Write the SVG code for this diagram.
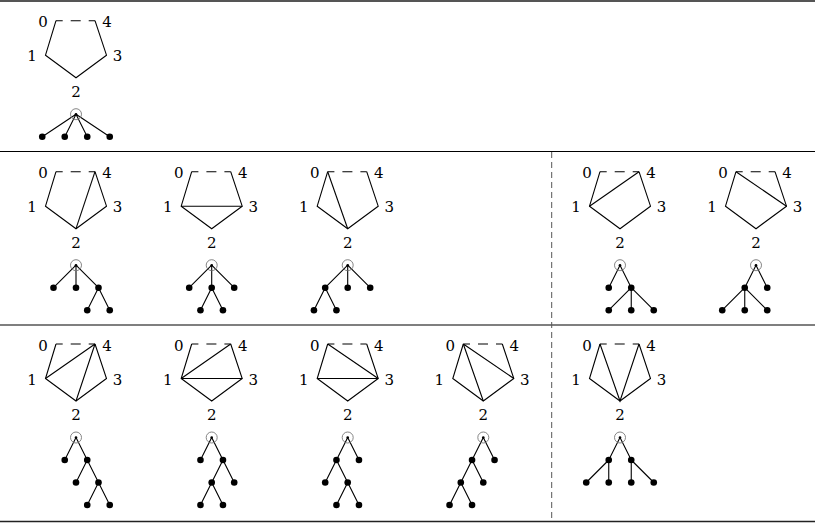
<svg xmlns="http://www.w3.org/2000/svg" width="815" height="529" viewBox="0 0 815 529">
<style>
.e{stroke:#000;stroke-width:1.1;fill:none}
.d{stroke:#000;stroke-width:1.1;fill:none;stroke-dasharray:10 8;stroke-dashoffset:3.3}
text{font-family:'DejaVu Serif','Liberation Serif',serif;font-size:15px;text-anchor:middle;fill:#000}
.te{stroke:#000;stroke-width:1.1;fill:none}
.n{fill:#000}
.rc{fill:none;stroke:#777;stroke-width:0.9}
.rule{stroke-linecap:butt}
</style>
<defs>
<g id="pent">
<path class="e" d="M-20,0 L-30.5,34.5 L0,57 L30.5,34.5 L19,0"/>
<path class="d" d="M-20,0 H19"/>
</g>
<g id="root">
<circle class="rc" cx="0" cy="93.5" r="5.5"/>
<circle class="n" cx="0" cy="93.5" r="1.3"/>
</g>
</defs>

<g id="rules">
<line class="rule" x1="0" y1="1" x2="815" y2="1" stroke="#555" stroke-width="2"/>
<line class="rule" x1="0" y1="151.5" x2="815" y2="151.5" stroke="#000" stroke-width="1"/>
<line class="rule" x1="0" y1="325" x2="815" y2="325" stroke="#555" stroke-width="1.3"/>
<line class="rule" x1="0" y1="521.5" x2="815" y2="521.5" stroke="#222" stroke-width="1.5"/>
<line x1="551.7" y1="152" x2="551.7" y2="521" stroke="#555" stroke-width="1" stroke-dasharray="6 4"/>
</g>

<!-- Row 1 -->
<g id="r1a" transform="translate(76,20.7)">
<use href="#pent"/>
<text x="-33" y="6.6">0</text><text x="31" y="6.6">4</text>
<text x="-44" y="40.8">1</text><text x="41.5" y="40.8">3</text>
<text x="0" y="76.3">2</text>
<g class="tree">
<path class="te" d="M0,93.5L-33.75,116M0,93.5L-11.25,116M0,93.5L11.25,116M0,93.5L33.75,116"/>
<use href="#root"/>
<circle class="n" cx="-33.75" cy="116" r="3.3"/><circle class="n" cx="-11.25" cy="116" r="3.3"/>
<circle class="n" cx="11.25" cy="116" r="3.3"/><circle class="n" cx="33.75" cy="116" r="3.3"/>
</g>
</g>

<!-- Row 2 -->
<g id="r2a" transform="translate(76,171.7)">
<use href="#pent"/>
<path class="e" d="M0,57 L19,0"/>
<text x="-33" y="6.6">0</text><text x="31" y="6.6">4</text>
<text x="-44" y="40.8">1</text><text x="41.5" y="40.8">3</text>
<text x="0" y="76.3">2</text>
<g class="tree">
<path class="te" d="M0,93.5L-22.5,116M0,93.5L0,116M0,93.5L22.5,116M22.5,116L11.25,138.5M22.5,116L33.75,138.5"/>
<use href="#root"/>
<circle class="n" cx="-22.5" cy="116" r="3.3"/><circle class="n" cx="0" cy="116" r="3.3"/><circle class="n" cx="22.5" cy="116" r="3.3"/>
<circle class="n" cx="11.25" cy="138.5" r="3.3"/><circle class="n" cx="33.75" cy="138.5" r="3.3"/>
</g>
</g>

<g id="r2b" transform="translate(211.7,171.7)">
<use href="#pent"/>
<path class="e" d="M-30.5,34.5 L30.5,34.5"/>
<text x="-33" y="6.6">0</text><text x="31" y="6.6">4</text>
<text x="-44" y="40.8">1</text><text x="41.5" y="40.8">3</text>
<text x="0" y="76.3">2</text>
<g class="tree">
<path class="te" d="M0,93.5L-22.5,116M0,93.5L0,116M0,93.5L22.5,116M0,116L-11.25,138.5M0,116L11.25,138.5"/>
<use href="#root"/>
<circle class="n" cx="-22.5" cy="116" r="3.3"/><circle class="n" cx="0" cy="116" r="3.3"/><circle class="n" cx="22.5" cy="116" r="3.3"/>
<circle class="n" cx="-11.25" cy="138.5" r="3.3"/><circle class="n" cx="11.25" cy="138.5" r="3.3"/>
</g>
</g>

<g id="r2c" transform="translate(347.7,171.7)">
<use href="#pent"/>
<path class="e" d="M-20,0 L0,57"/>
<text x="-33" y="6.6">0</text><text x="31" y="6.6">4</text>
<text x="-44" y="40.8">1</text><text x="41.5" y="40.8">3</text>
<text x="0" y="76.3">2</text>
<g class="tree">
<path class="te" d="M0,93.5L-22.5,116M0,93.5L0,116M0,93.5L22.5,116M-22.5,116L-33.75,138.5M-22.5,116L-11.25,138.5"/>
<use href="#root"/>
<circle class="n" cx="-22.5" cy="116" r="3.3"/><circle class="n" cx="0" cy="116" r="3.3"/><circle class="n" cx="22.5" cy="116" r="3.3"/>
<circle class="n" cx="-33.75" cy="138.5" r="3.3"/><circle class="n" cx="-11.25" cy="138.5" r="3.3"/>
</g>
</g>

<g id="r2d" transform="translate(620,171.7)">
<use href="#pent"/>
<path class="e" d="M-30.5,34.5 L19,0"/>
<text x="-33" y="6.6">0</text><text x="31" y="6.6">4</text>
<text x="-44" y="40.8">1</text><text x="41.5" y="40.8">3</text>
<text x="0" y="76.3">2</text>
<g class="tree">
<path class="te" d="M0,93.5L-11.25,116M0,93.5L11.25,116M11.25,116L-11.25,138.5M11.25,116L11.25,138.5M11.25,116L33.75,138.5"/>
<use href="#root"/>
<circle class="n" cx="-11.25" cy="116" r="3.3"/><circle class="n" cx="11.25" cy="116" r="3.3"/>
<circle class="n" cx="-11.25" cy="138.5" r="3.3"/><circle class="n" cx="11.25" cy="138.5" r="3.3"/><circle class="n" cx="33.75" cy="138.5" r="3.3"/>
</g>
</g>

<g id="r2e" transform="translate(756,171.7)">
<use href="#pent"/>
<path class="e" d="M-20,0 L30.5,34.5"/>
<text x="-33" y="6.6">0</text><text x="31" y="6.6">4</text>
<text x="-44" y="40.8">1</text><text x="41.5" y="40.8">3</text>
<text x="0" y="76.3">2</text>
<g class="tree">
<path class="te" d="M0,93.5L-11.25,116M0,93.5L11.25,116M-11.25,116L-33.75,138.5M-11.25,116L-11.25,138.5M-11.25,116L11.25,138.5"/>
<use href="#root"/>
<circle class="n" cx="-11.25" cy="116" r="3.3"/><circle class="n" cx="11.25" cy="116" r="3.3"/>
<circle class="n" cx="-33.75" cy="138.5" r="3.3"/><circle class="n" cx="-11.25" cy="138.5" r="3.3"/><circle class="n" cx="11.25" cy="138.5" r="3.3"/>
</g>
</g>

<!-- Row 3 -->
<g id="r3a" transform="translate(76,344)">
<use href="#pent"/>
<path class="e" d="M-30.5,34.5 L19,0 M0,57 L19,0"/>
<text x="-33" y="6.6">0</text><text x="31" y="6.6">4</text>
<text x="-44" y="40.8">1</text><text x="41.5" y="40.8">3</text>
<text x="0" y="76.3">2</text>
<g class="tree">
<path class="te" d="M0,93.5L-11.25,116M0,93.5L11.25,116M11.25,116L0,138.5M11.25,116L22.5,138.5M22.5,138.5L11.25,161M22.5,138.5L33.75,161"/>
<use href="#root"/>
<circle class="n" cx="-11.25" cy="116" r="3.3"/><circle class="n" cx="11.25" cy="116" r="3.3"/>
<circle class="n" cx="0" cy="138.5" r="3.3"/><circle class="n" cx="22.5" cy="138.5" r="3.3"/>
<circle class="n" cx="11.25" cy="161" r="3.3"/><circle class="n" cx="33.75" cy="161" r="3.3"/>
</g>
</g>

<g id="r3b" transform="translate(211.7,344)">
<use href="#pent"/>
<path class="e" d="M-30.5,34.5 L19,0 M-30.5,34.5 L30.5,34.5"/>
<text x="-33" y="6.6">0</text><text x="31" y="6.6">4</text>
<text x="-44" y="40.8">1</text><text x="41.5" y="40.8">3</text>
<text x="0" y="76.3">2</text>
<g class="tree">
<path class="te" d="M0,93.5L-11.25,116M0,93.5L11.25,116M11.25,116L0,138.5M11.25,116L22.5,138.5M0,138.5L-11.25,161M0,138.5L11.25,161"/>
<use href="#root"/>
<circle class="n" cx="-11.25" cy="116" r="3.3"/><circle class="n" cx="11.25" cy="116" r="3.3"/>
<circle class="n" cx="0" cy="138.5" r="3.3"/><circle class="n" cx="22.5" cy="138.5" r="3.3"/>
<circle class="n" cx="-11.25" cy="161" r="3.3"/><circle class="n" cx="11.25" cy="161" r="3.3"/>
</g>
</g>

<g id="r3c" transform="translate(347.7,344)">
<use href="#pent"/>
<path class="e" d="M-20,0 L30.5,34.5 M-30.5,34.5 L30.5,34.5"/>
<text x="-33" y="6.6">0</text><text x="31" y="6.6">4</text>
<text x="-44" y="40.8">1</text><text x="41.5" y="40.8">3</text>
<text x="0" y="76.3">2</text>
<g class="tree">
<path class="te" d="M0,93.5L-11.25,116M0,93.5L11.25,116M-11.25,116L-22.5,138.5M-11.25,116L0,138.5M0,138.5L-11.25,161M0,138.5L11.25,161"/>
<use href="#root"/>
<circle class="n" cx="-11.25" cy="116" r="3.3"/><circle class="n" cx="11.25" cy="116" r="3.3"/>
<circle class="n" cx="-22.5" cy="138.5" r="3.3"/><circle class="n" cx="0" cy="138.5" r="3.3"/>
<circle class="n" cx="-11.25" cy="161" r="3.3"/><circle class="n" cx="11.25" cy="161" r="3.3"/>
</g>
</g>

<g id="r3d" transform="translate(483.3,344)">
<use href="#pent"/>
<path class="e" d="M-20,0 L0,57 M-20,0 L30.5,34.5"/>
<text x="-33" y="6.6">0</text><text x="31" y="6.6">4</text>
<text x="-44" y="40.8">1</text><text x="41.5" y="40.8">3</text>
<text x="0" y="76.3">2</text>
<g class="tree">
<path class="te" d="M0,93.5L-11.25,116M0,93.5L11.25,116M-11.25,116L-22.5,138.5M-11.25,116L0,138.5M-22.5,138.5L-33.75,161M-22.5,138.5L-11.25,161"/>
<use href="#root"/>
<circle class="n" cx="-11.25" cy="116" r="3.3"/><circle class="n" cx="11.25" cy="116" r="3.3"/>
<circle class="n" cx="-22.5" cy="138.5" r="3.3"/><circle class="n" cx="0" cy="138.5" r="3.3"/>
<circle class="n" cx="-33.75" cy="161" r="3.3"/><circle class="n" cx="-11.25" cy="161" r="3.3"/>
</g>
</g>

<g id="r3e" transform="translate(620,344)">
<use href="#pent"/>
<path class="e" d="M-20,0 L0,57 L19,0"/>
<text x="-33" y="6.6">0</text><text x="31" y="6.6">4</text>
<text x="-44" y="40.8">1</text><text x="41.5" y="40.8">3</text>
<text x="0" y="76.3">2</text>
<g class="tree">
<path class="te" d="M0,93.5L-11.25,116M0,93.5L11.25,116M-11.25,116L-33.75,138.5M-11.25,116L-11.25,138.5M11.25,116L11.25,138.5M11.25,116L33.75,138.5"/>
<use href="#root"/>
<circle class="n" cx="-11.25" cy="116" r="3.3"/><circle class="n" cx="11.25" cy="116" r="3.3"/>
<circle class="n" cx="-33.75" cy="138.5" r="3.3"/><circle class="n" cx="-11.25" cy="138.5" r="3.3"/>
<circle class="n" cx="11.25" cy="138.5" r="3.3"/><circle class="n" cx="33.75" cy="138.5" r="3.3"/>
</g>
</g>
</svg>
